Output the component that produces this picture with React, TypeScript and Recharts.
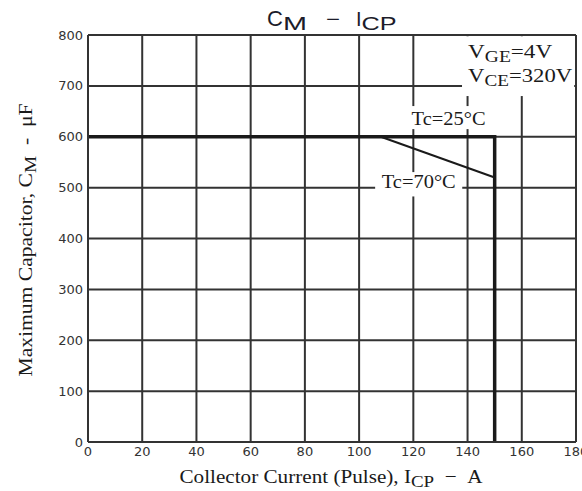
import { LineChart, Line, XAxis, YAxis, CartesianGrid, ReferenceArea } from "recharts";

const currentTicks = [0, 20, 40, 60, 80, 100, 120, 140, 160, 180];
const capTicks = [0, 100, 200, 300, 400, 500, 600, 700, 800];

// Tc = 25°C boundary
const tc25Current = [0, 150, 150];
const tc25Cap = [600, 600, 0];
// Tc = 70°C derating
const tc70Current = [108, 150];
const tc70Cap = [600, 520];

const tc25 = tc25Current.map((i, k) => ({ i, c: tc25Cap[k] }));
const tc70 = tc70Current.map((i, k) => ({ i, c: tc70Cap[k] }));

const INK = "#1a1a1a";
const GRID = "#333";
const SERIF = "'Liberation Serif', 'Times New Roman', serif";
const SANS = "'DejaVu Sans', sans-serif";

// white patch behind an annotation so the grid is broken under it
const Patch = ({ vb }: { vb: any }) => (
  <rect x={vb.x} y={vb.y} width={vb.width} height={vb.height} fill="#fff" />
);

const conditionsLabel = (props: any) => {
  const vb = props.viewBox;
  return (
    <g>
      <Patch vb={vb} />
      <text x={vb.x + 6} y={vb.y + 21.5} fontFamily={SERIF} fontSize={19} fill={INK} textLength={84} lengthAdjust="spacingAndGlyphs">
        V<tspan dy={4} fontSize={16}>GE</tspan>
        <tspan dy={-4}>=4V</tspan>
      </text>
      <text x={vb.x + 6} y={vb.y + 45.5} fontFamily={SERIF} fontSize={19} fill={INK} textLength={104} lengthAdjust="spacingAndGlyphs">
        V<tspan dy={4} fontSize={16}>CE</tspan>
        <tspan dy={-4}>=320V</tspan>
      </text>
    </g>
  );
};

const tempLabel = (text: string, base: number) => (props: any) => {
  const vb = props.viewBox;
  return (
    <g>
      <Patch vb={vb} />
      <text x={vb.x + vb.width / 2} y={vb.y + base} textAnchor="middle" fontFamily={SERIF} fontSize={19} fill={INK} textLength={74} lengthAdjust="spacingAndGlyphs">
        {text}
      </text>
    </g>
  );
};

export default function App() {
  return (
    <div style={{ position: "absolute", left: 0, top: 0, background: "#fff" }}>
      <LineChart width={582} height={491} margin={{ top: 35, right: 6, bottom: 29, left: 48 }}>
        <CartesianGrid stroke={GRID} strokeWidth={2} horizontalValues={capTicks} verticalValues={currentTicks} />
        <XAxis
          dataKey="i"
          type="number"
          domain={[0, 180]}
          ticks={currentTicks}
          interval={0}
          height={20}
          tickLine={false}
          tickSize={0}
          tickMargin={5}
          axisLine={{ stroke: GRID, strokeWidth: 2 }}
          tick={{ fill: "#333", fontSize: 13, fontFamily: SANS }}
          allowDuplicatedCategory={false}
        />
        <YAxis
          dataKey="c"
          type="number"
          domain={[0, 800]}
          ticks={capTicks}
          interval={0}
          width={40}
          tickLine={false}
          tickSize={0}
          tickMargin={5}
          axisLine={{ stroke: GRID, strokeWidth: 2 }}
          tick={{ fill: "#333", fontSize: 13, fontFamily: SANS }}
        />
        <ReferenceArea x1={138} x2={179.3} y1={680} y2={797} fill="#fff" fillOpacity={1} stroke="none" label={conditionsLabel} />
        <ReferenceArea x1={118} x2={148} y1={615} y2={660} fill="#fff" fillOpacity={1} stroke="none" label={tempLabel("Tc=25°C", 19)} />
        <ReferenceArea x1={106} x2={138} y1={483} y2={530} fill="#fff" fillOpacity={1} stroke="none" label={tempLabel("Tc=70°C", 15.6)} />
        <Line data={tc25} dataKey="c" type="linear" stroke={INK} strokeWidth={3.5} dot={false} isAnimationActive={false} strokeLinejoin="miter" />
        <Line data={tc70} dataKey="c" type="linear" stroke={INK} strokeWidth={2} dot={false} isAnimationActive={false} />
        <text y={26} fontFamily="'Liberation Sans', Arial, sans-serif" fill="#1c1c2a">
          <tspan x={267} fontSize={22}>C</tspan>
          <tspan x={283} dy={4} fontSize={19} textLength={24} lengthAdjust="spacingAndGlyphs">M</tspan>
          <tspan x={326} dy={-4} fontSize={20} textLength={14} lengthAdjust="spacingAndGlyphs">−</tspan>
          <tspan x={356} fontSize={20}>I</tspan>
          <tspan dy={4} fontSize={19} textLength={35} lengthAdjust="spacingAndGlyphs">CP</tspan>
        </text>
        <text x={331} y={483} textAnchor="middle" fontFamily={SERIF} fontSize={19} fill={INK} textLength={303} lengthAdjust="spacingAndGlyphs">
          Collector Current (Pulse), I<tspan dy={4} fontSize={17}>CP</tspan>
          <tspan dy={-4}>{"\u00a0\u00a0−\u00a0\u00a0A"}</tspan>
        </text>
        <text
          transform="translate(32 240) rotate(-90)"
          x={0}
          y={0}
          textAnchor="middle"
          fontFamily={SERIF}
          fontSize={19}
          fill={INK}
          textLength={273}
          lengthAdjust="spacingAndGlyphs"
        >
          Maximum Capacitor, C<tspan dy={4} fontSize={17}>M</tspan>
          <tspan dy={-4}>{"\u00a0\u00a0-\u00a0\u00a0μF"}</tspan>
        </text>
      </LineChart>
    </div>
  );
}
